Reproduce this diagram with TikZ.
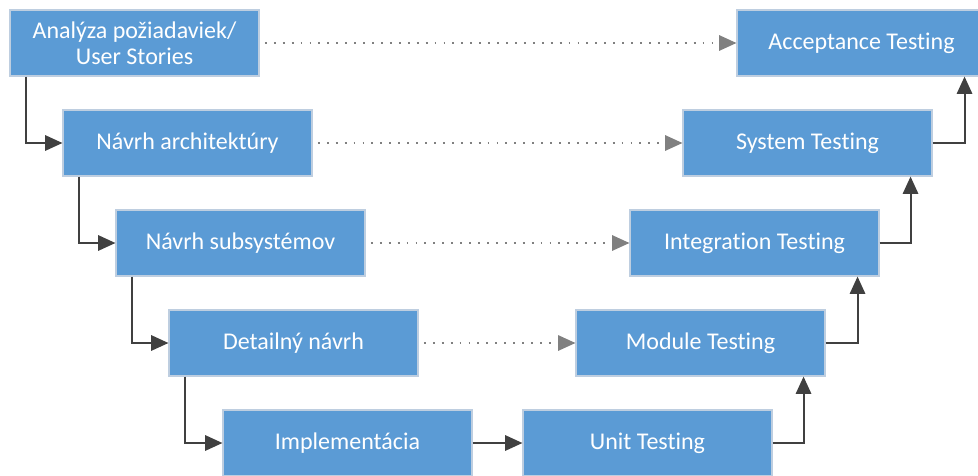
\documentclass[tikz,border=0pt]{standalone}
\usepackage{fontspec}
\setmainfont[Ligatures={NoCommon}]{Carlito}
\usetikzlibrary{arrows.meta}
\definecolor{boxblue}{RGB}{91,155,213}
\definecolor{boxline}{RGB}{190,206,224}
\definecolor{flowgray}{RGB}{64,64,64}
\definecolor{dotgray}{RGB}{128,128,128}
\tikzset{>={Triangle[length=13pt,width=11.5pt]}}
\tikzstyle{phase}=[rectangle,draw=boxline,fill=boxblue,line width=0.8pt,minimum width=186.75pt,minimum height=49.5pt,text=white,align=center,font=\fontsize{18}{19.5}\selectfont]
\tikzstyle{flow}=[->,draw=flowgray,line width=1.5pt]
\tikzstyle{check}=[->,draw=dotgray,line width=1.4pt,dash pattern=on 1.4pt off 5.3pt,shorten <=4pt]

\begin{document}
\begin{tikzpicture}[x=0.75pt,y=0.75pt]
	\useasboundingbox (0,0) rectangle (978,-475);
	% left side
	\node[phase] (req) at (134.5,-43) {Analýza požiadaviek/\\User Stories};
	\node[phase] (arch) at (187.5,-143) {Návrh architektúry};
	\node[phase] (subsys) at (240.5,-243) {Návrh subsystémov};
	\node[phase] (detail) at (293.5,-343) {Detailný návrh};
	\node[phase] (impl) at (347.5,-443) {Implementácia};
	% right side
	\node[phase] (unit) at (647.5,-443) {Unit Testing};
	\node[phase] (module) at (700.5,-343) {Module Testing};
	\node[phase] (integ) at (754.5,-243) {Integration Testing};
	\node[phase] (system) at (807.5,-143) {System Testing};
	\node[phase] (accept) at (861.5,-43) {Acceptance Testing};
	
	\draw[flow] ([xshift=12.75pt]req.south west) |- (arch.west);
	\draw[flow] ([xshift=12.75pt]arch.south west) |- (subsys.west);
	\draw[flow] ([xshift=12.75pt]subsys.south west) |- (detail.west);
	\draw[flow] ([xshift=12.75pt]detail.south west) |- (impl.west);
	\draw[flow] (impl) -- (unit);
	\draw[flow] (unit.east) -| ([xshift=-16.5pt]module.south east);
	\draw[flow] (module.east) -| ([xshift=-16.5pt]integ.south east);
	\draw[flow] (integ.east) -| ([xshift=-16.5pt]system.south east);
	\draw[flow] (system.east) -| ([xshift=-16.5pt]accept.south east);
	
	\draw[check] (req) -- (accept);
	\draw[check] (arch) -- (system);
	\draw[check] (subsys) -- (integ);
	\draw[check] (detail) -- (module);
\end{tikzpicture}
\end{document}
